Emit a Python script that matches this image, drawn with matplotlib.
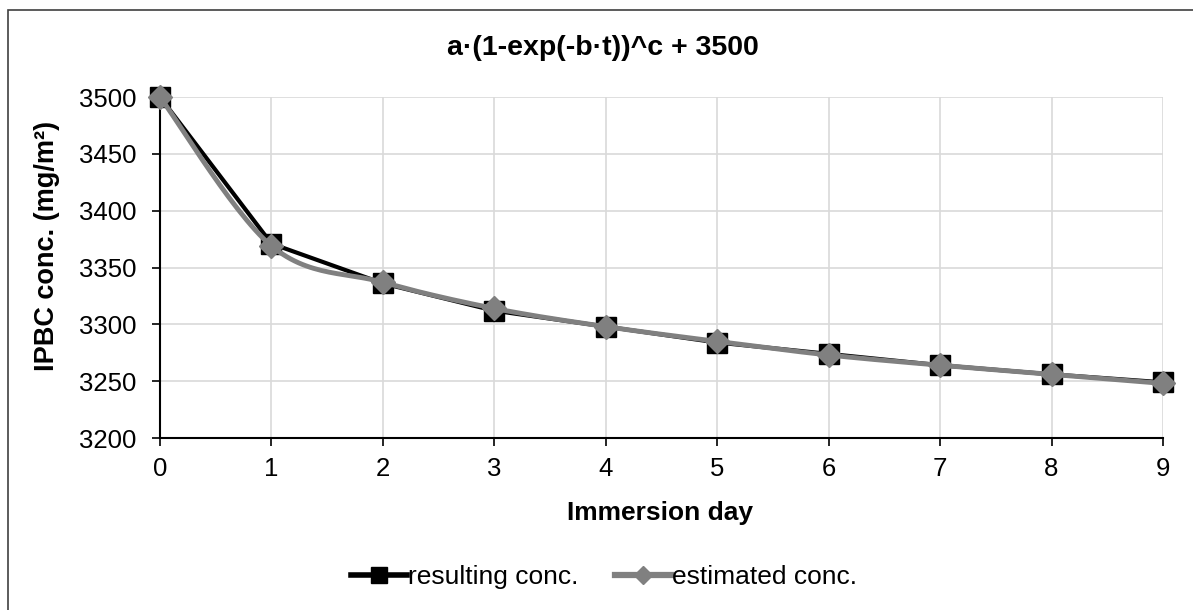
import matplotlib
matplotlib.use("Agg")
import matplotlib.pyplot as plt
import matplotlib.patches as mpatches
from matplotlib.lines import Line2D
import numpy as np

plt.rcParams["font.family"] = ["Liberation Sans", "DejaVu Sans"]

days = [0, 1, 2, 3, 4, 5, 6, 7, 8, 9]
resulting_conc = [3500, 3371, 3336, 3312, 3298, 3284, 3274, 3264, 3256, 3249]
estimated_conc = [3500, 3369, 3337, 3314, 3298, 3285, 3273, 3264, 3256, 3248]
y_ticks = [3200, 3250, 3300, 3350, 3400, 3450, 3500]

W, H = 1193, 610
GREY = "#808080"


def smooth_curve(xs, ys, n=30):
    """Catmull-Rom style smoothing, like a spreadsheet's smoothed line."""
    xs = np.asarray(xs, float)
    ys = np.asarray(ys, float)
    px = np.concatenate([[xs[0]], xs, [xs[-1]]])
    py = np.concatenate([[ys[0]], ys, [ys[-1]]])
    out_x, out_y = [], []
    t = np.linspace(0, 1, n)
    for i in range(1, len(px) - 2):
        p0x, p1x, p2x, p3x = px[i - 1], px[i], px[i + 1], px[i + 2]
        p0y, p1y, p2y, p3y = py[i - 1], py[i], py[i + 1], py[i + 2]
        # bezier control points
        c1x = p1x + (p2x - p0x) / 6
        c1y = p1y + (p2y - p0y) / 6
        c2x = p2x - (p3x - p1x) / 6
        c2y = p2y - (p3y - p1y) / 6
        bx = (1 - t) ** 3 * p1x + 3 * (1 - t) ** 2 * t * c1x + 3 * (1 - t) * t ** 2 * c2x + t ** 3 * p2x
        by = (1 - t) ** 3 * p1y + 3 * (1 - t) ** 2 * t * c1y + 3 * (1 - t) * t ** 2 * c2y + t ** 3 * p2y
        out_x.extend(bx)
        out_y.extend(by)
    return out_x, out_y


fig = plt.figure(figsize=(W / 100, H / 100), dpi=100)
ax = fig.add_axes([160 / W, 1 - 438 / H, (1163 - 160) / W, (438 - 97) / H])

# chart area frame (runs off the right and bottom edges)
fig.patches.append(mpatches.Rectangle((8 / W, -0.1), 1.2, 1 - 10 / H + 0.1,
                                      transform=fig.transFigure, fill=False,
                                      edgecolor="#404040", linewidth=1.2))

ax.plot(days, resulting_conc, color="black", linewidth=3, marker="s",
        markersize=14, markerfacecolor="black", markeredgecolor="black",
        zorder=3, clip_on=False)

sx, sy = smooth_curve(days, estimated_conc)
ax.plot(sx, sy, color=GREY, linewidth=3.5, zorder=4, clip_on=False)
ax.plot(days, estimated_conc, linestyle="none", marker="D", markersize=12.5,
        color=GREY, zorder=5, clip_on=False)

ax.set_xlim(0, 9)
ax.set_ylim(3200, 3500)
ax.set_xticks(days)
ax.set_yticks(y_ticks)
ax.grid(True, color="#d9d9d9", linewidth=1.2)
ax.set_axisbelow(True)
for side in ["top", "right"]:
    ax.spines[side].set_visible(False)
for side in ["left", "bottom"]:
    ax.spines[side].set_linewidth(1.5)
ax.tick_params(axis="both", labelsize=18.5, length=6, width=1.2, direction="out")
ax.tick_params(axis="x", pad=8)
ax.tick_params(axis="y", pad=11)

fig.text(603 / W, 1 - 48 / H, "a·(1-exp(-b·t))^c + 3500", fontsize=20.5,
         fontweight="bold", ha="center", va="center")
fig.text(660 / W, 1 - 513 / H, "Immersion day", fontsize=19,
         fontweight="bold", ha="center", va="center")
fig.text(47 / W, 1 - 246 / H, "IPBC conc. (mg/m²)", fontsize=19.5,
         fontweight="bold", ha="center", va="center", rotation=90)

handles = [
    Line2D([], [], color="black", linewidth=4, marker="s", markersize=11),
    Line2D([], [], color=GREY, linewidth=4.5, marker="D", markersize=9),
]
fig.legend(handles, ["resulting conc.", "estimated conc."], loc="center",
           bbox_to_anchor=(604 / W, 1 - 577 / H), ncol=2, frameon=False,
           fontsize=19, handlelength=2.1, handletextpad=0.05, columnspacing=1.4)

fig.savefig("out.png", dpi=100)
